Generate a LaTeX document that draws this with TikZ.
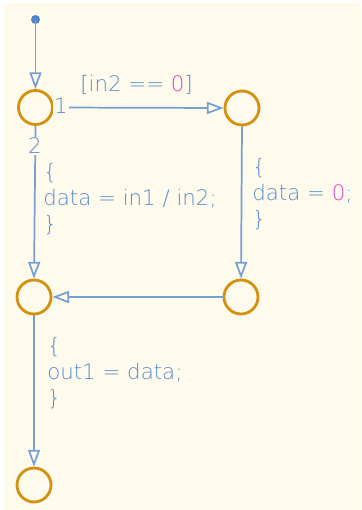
\documentclass[tikz,border=0pt]{standalone}
\usepackage{fontspec}
\setmainfont{DejaVu Sans ExtraLight}
\usetikzlibrary{arrows.meta}
\definecolor{bg}{HTML}{FEFBEC}
\definecolor{txt}{HTML}{5A8CCB}
\definecolor{ln}{HTML}{76A0D4}
\definecolor{jn}{HTML}{D4900F}
\definecolor{mag}{HTML}{DD44C4}
\definecolor{dotc}{HTML}{4F82C6}
\tikzset{
  junc/.style={circle,draw=jn,line width=2.1pt,minimum size=25.5pt,inner sep=0pt},
  trans/.style={draw=ln,line width=1.3pt,-{Triangle[open,length=12.5pt,width=9pt,fill=bg]}},
  lab/.style={text=txt,font=\fontsize{16}{19.5}\selectfont,align=left,inner sep=0pt},
  num/.style={text=txt,font=\fontsize{16}{19.5}\selectfont,fill=bg,inner sep=1pt},
}
\begin{document}
\begin{tikzpicture}[x=0.75pt,y=-0.75pt]
\fill[white] (0,0) rectangle (361,510);
\fill[bg] (4,3) rectangle (361,510);
\useasboundingbox (0,0) rectangle (361,510);
% junctions
\node[junc] (A) at (35.5,107.5) {};
\node[junc] (B) at (242,108) {};
\node[junc] (C) at (34,297) {};
\node[junc] (E) at (241,297) {};
\node[junc] (D) at (34,485) {};
% default transition
\coordinate (S) at (35.5,19.5);
\fill[dotc] (S) circle (4.5);
\draw[trans] (S) -- (A.north);
% A -> B
\draw[trans] (A.east) -- (B.west);
\node[num] (n1) at (61,106) {1};
\node[lab,anchor=base west] (g1) at (80,91) {[in2 == \textcolor{mag}{0}]};
% A -> C
\draw[trans] (A.south) -- (C.north);
\node[num] (n2) at (35,146) {2};
\node[lab,anchor=west] (a1) at (43,199) {\{\\data = in1 / in2;\\\}};
% B -> E
\draw[trans] (B.south) -- (E.north);
\node[lab,anchor=west] (a2) at (252,194) {\{\\data = \textcolor{mag}{0};\\\}};
% E -> C
\draw[trans] (E.west) -- (C.east);
% C -> D
\draw[trans] (C.south) -- (D.north);
\node[lab,anchor=west] (a3) at (47,373) {\{\\out1 = data;\\\}};
\end{tikzpicture}
\end{document}
